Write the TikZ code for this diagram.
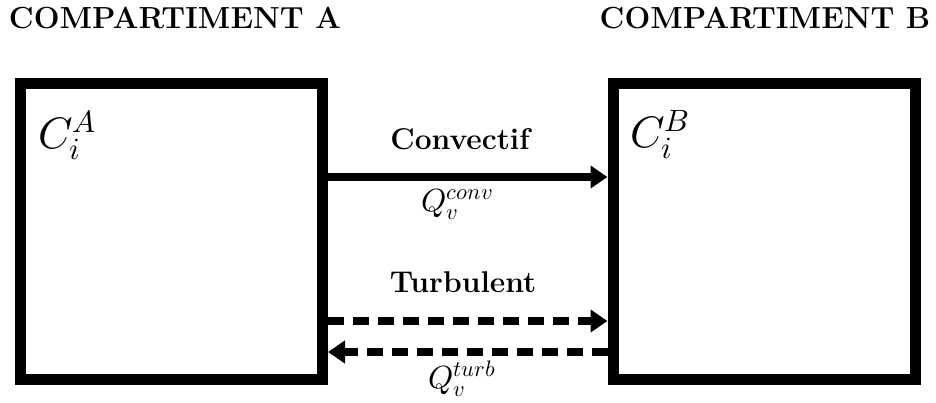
\documentclass[tikz,border=0pt]{standalone}
\usepackage{unicode-math}
\usetikzlibrary{arrows.meta, positioning}

\begin{document}
\begin{tikzpicture}[
    x=1pt, y=-1pt,
    comp/.style={rectangle, draw=black, line width=11pt, minimum width=302pt, minimum height=296pt, inner sep=0pt},
    title/.style={font=\fontsize{30.5}{36}\selectfont\bfseries, anchor=base},
    flowlabel/.style={font=\fontsize{30}{36}\selectfont\bfseries, anchor=base},
    conc/.style={font=\fontsize{44}{50}\selectfont, anchor=north west, inner sep=0pt},
    rate/.style={font=\fontsize{32}{38}\selectfont, inner sep=0pt},
    arrow/.style={-{Triangle[length=17pt, width=22pt]}, line width=8.5pt},
    turb/.style={arrow, dash pattern=on 16pt off 9pt}
]
\useasboundingbox (0,0) rectangle (936,403);
% compartments
\node[comp] (A) at (171.5,231.5) {};
\node[comp] (B) at (764,231.5) {};
\node[title] (titleA) at (175,29) {COMPARTIMENT A};
\node[title] (titleB) at (765,29) {COMPARTIMENT B};
\node[conc] (cA) at (38,110) {$C_i^A$};
\node[conc] (cB) at (630,110) {$C_i^B$};
% exchanges
\draw[arrow] ([yshift=-99pt]A.north east) -- ([yshift=-99pt]B.north west);
\draw[turb] ([yshift=-243pt]A.north east) -- ([yshift=-243pt]B.north west);
\draw[turb] ([yshift=-274pt]B.north west) -- ([yshift=-274pt]A.north east);
\node[flowlabel] (conv) at (460,150) {Convectif};
\node[flowlabel] (turbul) at (463,292) {Turbulent};
\node[rate] (qconv) at (457,204) {$Q_v^{conv}$};
\node[rate] (qturb) at (462,379) {$Q_v^{turb}$};
\end{tikzpicture}
\end{document}
